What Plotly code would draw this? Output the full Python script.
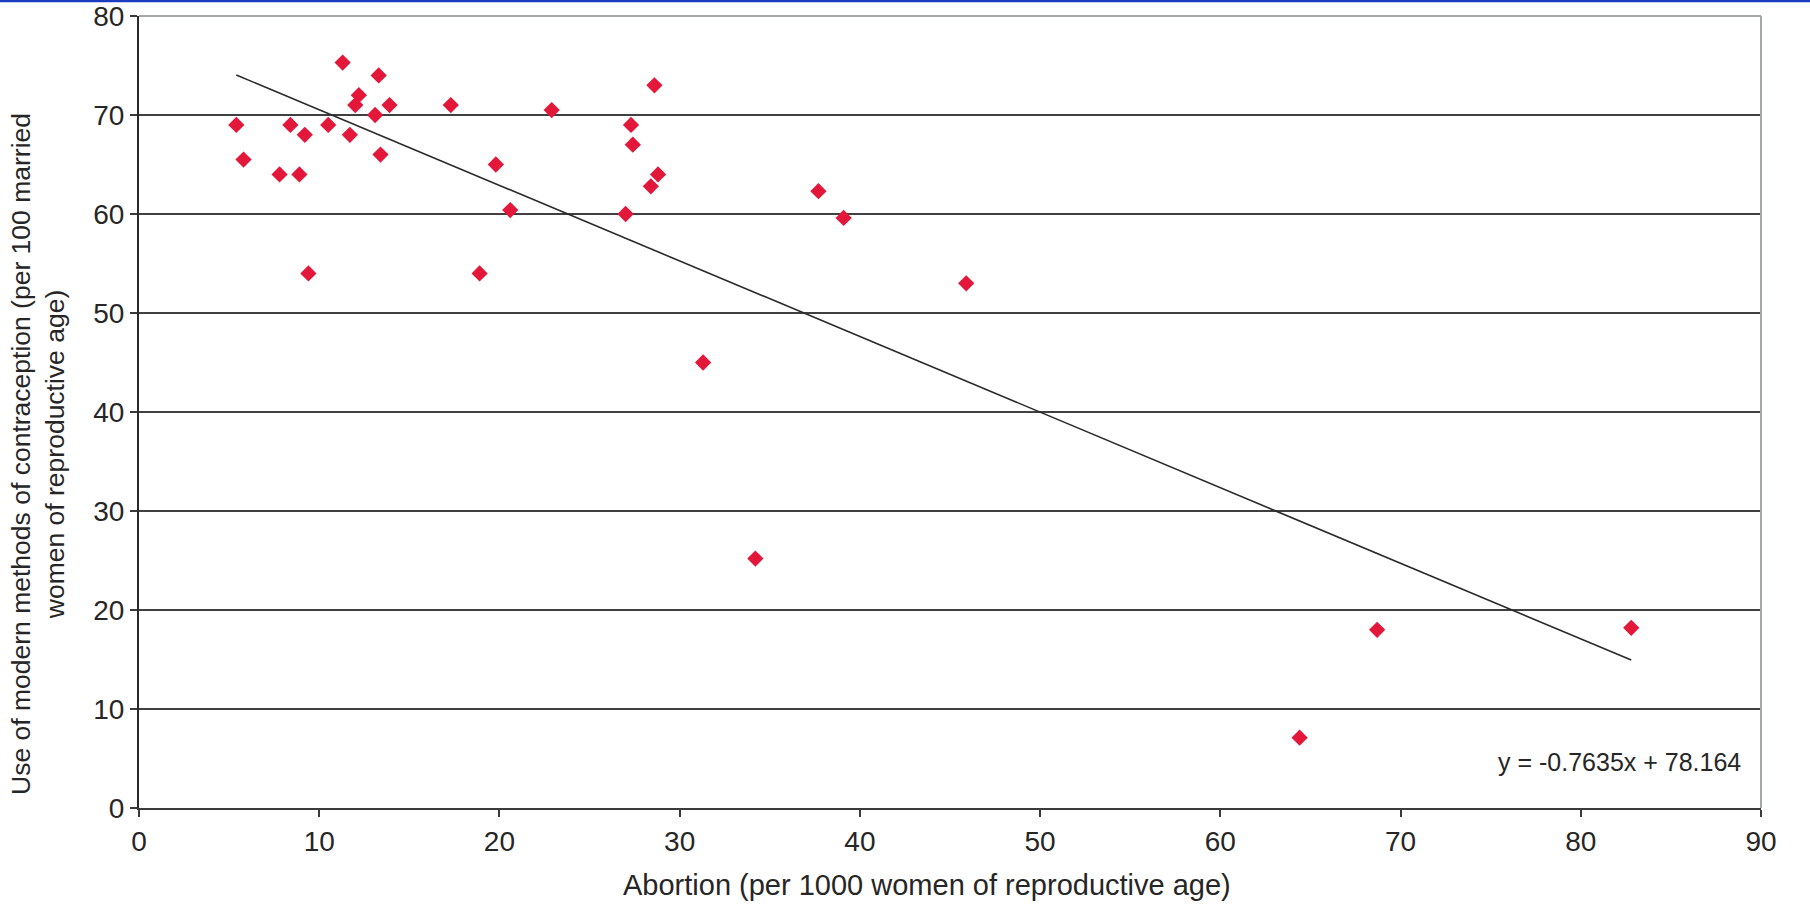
import plotly.graph_objects as go

# Abortion rate (per 1000 women of reproductive age)
abortion = [5.4, 5.8, 7.8, 8.4, 8.9, 9.2, 9.4, 10.5, 11.3, 11.7, 12.0, 12.2,
            13.1, 13.3, 13.4, 13.9, 17.3, 18.9, 19.8, 20.6, 22.9, 27.0, 27.3,
            27.4, 28.4, 28.6, 28.8, 31.3, 34.2, 37.7, 39.1, 45.9, 64.4, 68.7, 82.8]
# Modern contraception use (per 100 married women of reproductive age)
contraception = [69.0, 65.5, 64.0, 69.0, 64.0, 68.0, 54.0, 69.0, 75.3, 68.0, 71.0, 72.0,
                 70.0, 74.0, 66.0, 71.0, 71.0, 54.0, 65.0, 60.4, 70.5, 60.0, 69.0,
                 67.0, 62.8, 73.0, 64.0, 45.0, 25.2, 62.3, 59.6, 53.0, 7.1, 18.0, 18.2]

trend_slope = -0.7635
trend_intercept = 78.164

x_ticks = [0, 10, 20, 30, 40, 50, 60, 70, 80, 90]
y_ticks = [0, 10, 20, 30, 40, 50, 60, 70, 80]

FONT = "Liberation Sans, Arial, sans-serif"
TXT = "#262626"

x_line = [min(abortion), max(abortion)]
y_line = [trend_slope * v + trend_intercept for v in x_line]

fig = go.Figure()
fig.add_trace(go.Scatter(
    x=x_line, y=y_line, mode="lines",
    line=dict(color="#2a2a2a", width=1.6),
    hoverinfo="skip", showlegend=False))
fig.add_trace(go.Scatter(
    x=abortion, y=contraception, mode="markers",
    marker=dict(symbol="diamond", size=12.5, color="#E3173A", line=dict(width=0)),
    showlegend=False))

fig.update_layout(
    width=1810, height=909,
    margin=dict(l=139, r=49, t=16, b=101),
    paper_bgcolor="white", plot_bgcolor="white",
    font=dict(family=FONT, size=24, color=TXT),
    xaxis=dict(
        range=[0, 90], tickvals=x_ticks, ticktext=[str(v) for v in x_ticks],
        showgrid=False, zeroline=False, automargin=False,
        showline=True, linecolor="#3a3a3a", linewidth=2,
        ticks="outside", ticklen=7, tickwidth=1.5, tickcolor="#3a3a3a",
        tickfont=dict(family=FONT, size=28, color=TXT),
        mirror=False),
    yaxis=dict(
        range=[0, 80], tickvals=y_ticks, ticktext=[str(v) for v in y_ticks],
        showgrid=True, gridcolor="#404040", gridwidth=1.7,
        zeroline=False, automargin=False,
        showline=True, linecolor="#2a2a2a", linewidth=2,
        ticks="outside", ticklen=7, tickwidth=1.5, tickcolor="#3a3a3a",
        tickfont=dict(family=FONT, size=28, color=TXT)),
    shapes=[
        # top and right frame (light gray)
        dict(type="line", xref="paper", yref="paper", x0=0, x1=1, y0=1, y1=1,
             line=dict(color="#a3a7ab", width=2)),
        dict(type="line", xref="paper", yref="paper", x0=1, x1=1, y0=0, y1=1,
             line=dict(color="#a3a7ab", width=2)),
        # thin blue band at top of page
        dict(type="line", xref="paper", yref="paper", x0=-0.1, x1=1.05,
             y0=1.0 + 15/792, y1=1.0 + 15/792,
             line=dict(color="#1a3cc0", width=2.5)),
    ],
    annotations=[
        dict(text="Abortion (per 1000 women of reproductive age)",
             xref="paper", yref="paper", x=0.486, y=-0.097,
             xanchor="center", yanchor="middle", showarrow=False,
             font=dict(family=FONT, size=29, color=TXT)),
        dict(text="Use of modern methods of contraception (per 100 married<br>women of reproductive age)",
             xref="paper", yref="paper", x=(38 - 139) / 1622, y=0.447,
             xanchor="center", yanchor="middle", textangle=-90, showarrow=False,
             font=dict(family=FONT, size=26.5, color=TXT)),
        dict(text=f"y = {trend_slope}x + {trend_intercept}",
             xref="paper", yref="paper", x=0.989, y=0.058,
             xanchor="right", yanchor="middle", showarrow=False,
             font=dict(family=FONT, size=25, color=TXT)),
    ],
)

fig.write_html("out.html")
